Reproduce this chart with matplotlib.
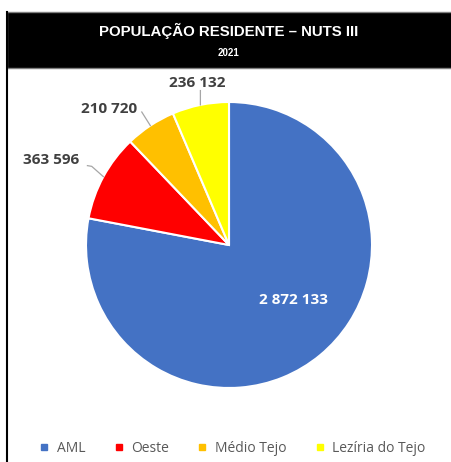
import matplotlib
matplotlib.use("Agg")
import matplotlib.pyplot as plt
import numpy as np
from matplotlib.patches import Rectangle
from matplotlib.lines import Line2D

# data
regions = ["AML", "Oeste", "Médio Tejo", "Lezíria do Tejo"]
population = [2872133, 363596, 210720, 236132]
labels = ["2 872 133", "363 596", "210 720", "236 132"]
colors = ["#4472C4", "#FF0000", "#FFC000", "#FFFF00"]

W, H = 452, 462
fig = plt.figure(figsize=(W / 100, H / 100), dpi=100)

# header bar
fig.patches.append(Rectangle((7 / W, 1 - 68 / H), 1, 56 / H, transform=fig.transFigure,
                             facecolor="black", edgecolor="#7f7f7f", linewidth=1))
fig.lines.append(Line2D([7 / W, 7 / W], [0, 1 - 12 / H], transform=fig.transFigure,
                        color="black", linewidth=1.5))
fig.text(229 / W, 1 - 31 / H, "POPULAÇÃO RESIDENTE – NUTS III", color="white",
         fontsize=10.8, fontweight="bold", family="Liberation Sans", ha="center", va="center")
fig.text(229 / W, 1 - 53 / H, "2021", color="white", fontsize=7,
         fontweight="bold", family="Liberation Sans", ha="center", va="center")

# pie axes: center (229,245) px, radius 143 px
cx, cy, r = 229, 245, 143
ax = fig.add_axes([(cx - 1.5 * r) / W, (H - cy - 1.5 * r) / H, 3 * r / W, 3 * r / H])
wedges, _ = ax.pie(population, colors=colors, startangle=90, counterclock=False,
                   wedgeprops=dict(edgecolor="white", linewidth=1.5))
ax.set_xlim(-1.5, 1.5)
ax.set_ylim(-1.5, 1.5)
ax.set_aspect("equal")
ax.axis("off")

lab_font = dict(fontsize=11, fontweight="bold", family="Open Sans", ha="center", va="center")

# inside label for AML
ax.text(0.45, -0.385, labels[0], color="white", **lab_font)

# outside labels: text position and leader line start (in radius units)
outside = {1: ((-1.245, 0.594), [(-0.99, 0.555), (-0.96, 0.55)]),
           2: ((-0.84, 0.95), [(-0.61, 0.93)]),
           3: ((-0.22, 1.13), [(-0.20, 1.08)])}
for i, (tpos, pts) in outside.items():
    w = wedges[i]
    ang = np.deg2rad((w.theta1 + w.theta2) / 2)
    xs = [p[0] for p in pts] + [np.cos(ang)]
    ys = [p[1] for p in pts] + [np.sin(ang)]
    ax.plot(xs, ys, color="#a6a6a6", linewidth=0.9)
    ax.text(tpos[0], tpos[1], labels[i], color="#404040", **lab_font)

handles = [Line2D([], [], marker="s", linestyle="none", markersize=4, color=c) for c in colors]
fig.legend(handles, regions, loc="center", bbox_to_anchor=(232 / W, 1 - 448 / H), ncol=4,
           frameon=False, handlelength=0.8, handletextpad=0.5, columnspacing=2.0,
           prop=dict(family="Open Sans", size=10), labelcolor="#595959")

fig.savefig("out.png", dpi=100)
